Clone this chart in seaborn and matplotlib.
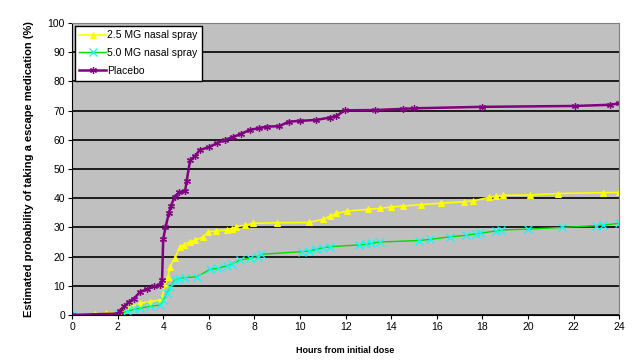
import numpy as np
import pandas as pd
import matplotlib
matplotlib.use("Agg")
import matplotlib.pyplot as plt
import seaborn as sns

# hours / estimated probability (%)
hours_25 = [0, 1.0, 1.5, 2.0, 2.25, 2.6, 3.0, 3.4, 3.86, 3.95, 4.08, 4.2, 4.3, 4.5, 4.74,
            4.9, 5.18, 5.4, 5.76, 5.98, 6.3, 6.78, 7.0, 7.2, 7.6, 7.95, 9.0, 10.4, 11.0,
            11.3, 11.6, 12.05, 13.0, 13.5, 14.0, 14.5, 15.3, 16.2, 17.2, 17.6, 18.3, 18.6,
            18.9, 20.1, 21.3, 23.3, 24.0]
prob_25 = [0, 0.3, 0.6, 1.0, 1.7, 3.0, 4.0, 4.6, 5.1, 6.0, 10.8, 13.0, 16.5, 19.5, 23.4,
           24.0, 25.1, 25.6, 26.8, 28.5, 28.8, 29.1, 29.6, 30.2, 30.8, 31.4, 31.6, 31.7, 32.8,
           33.8, 34.8, 35.6, 36.2, 36.5, 37.0, 37.3, 37.8, 38.3, 38.8, 39.1, 40.3, 40.6,
           41.0, 41.1, 41.6, 41.9, 42.0]

hours_50 = [0, 2.0, 2.1, 2.4, 2.7, 3.0, 3.4, 3.86, 4.0, 4.15, 4.3, 4.5, 4.7, 4.96, 5.47,
            6.05, 6.4, 6.78, 7.0, 7.37, 7.8, 8.17, 8.3, 10.1, 10.4, 10.7, 11.0, 11.3, 12.6,
            12.9, 13.1, 13.5, 15.2, 15.7, 16.6, 17.3, 17.7, 17.9, 18.6, 18.8, 20.0, 21.5,
            23.0, 23.3, 24.0]
prob_50 = [0, 0.3, 0.5, 1.2, 2.0, 2.3, 3.0, 3.4, 5.0, 7.4, 9.5, 12.0, 12.5, 12.8, 13.1,
           15.6, 16.0, 16.8, 17.5, 18.8, 19.4, 20.0, 20.8, 21.7, 21.9, 22.5, 23.0, 23.4, 24.0,
           24.2, 24.5, 25.0, 25.5, 25.9, 26.8, 27.3, 27.8, 28.0, 28.8, 29.1, 29.4, 30.0,
           30.6, 30.8, 31.4]

hours_pl = [0, 2.0, 2.1, 2.3, 2.5, 2.7, 3.0, 3.3, 3.6, 3.86, 3.95, 4.0, 4.1, 4.25, 4.35,
            4.5, 4.7, 4.96, 5.03, 5.18, 5.4, 5.6, 6.0, 6.35, 6.7, 7.07, 7.4, 7.8, 8.2,
            8.54, 9.1, 9.5, 10.0, 10.7, 11.3, 11.6, 11.97, 13.3, 14.5, 15.0, 18.0, 22.06,
            23.6, 24.0]
prob_pl = [0, 0.5, 1.5, 3.0, 4.5, 5.5, 8.0, 8.8, 9.8, 10.3, 12.0, 26.0, 30.0, 35.0, 37.5,
           40.5, 42.0, 42.5, 46.0, 53.0, 54.5, 56.5, 57.5, 58.8, 60.0, 61.0, 62.0, 63.4, 64.0,
           64.5, 64.7, 66.2, 66.5, 66.8, 67.6, 68.2, 70.1, 70.2, 70.6, 70.8, 71.3, 71.6,
           72.0, 72.5]

series_names = ["2.5 MG nasal spray", "5.0 MG nasal spray", "Placebo"]

plt.rcParams['font.family'] = ['Liberation Sans', 'DejaVu Sans']

fig = plt.figure(figsize=(6.43, 3.6), dpi=100)
ax = fig.add_axes([0.112, 0.125, 0.851, 0.811])
ax.set_facecolor('#c0c0c0')

sns.lineplot(x=hours_25, y=prob_25, ax=ax, color='#ffff00', lw=1.2, marker='^',
             markersize=4.5, markeredgecolor='#ffff00', label=series_names[0], sort=False)
sns.lineplot(x=hours_50, y=prob_50, ax=ax, color='#00dd00', lw=1.0, marker='x',
             markersize=5.5, markeredgecolor='#00ffff', markeredgewidth=0.9,
             label=series_names[1], sort=False)
sns.lineplot(x=hours_pl, y=prob_pl, ax=ax, color='#800080', lw=1.8, marker=(6, 2, 0),
             markersize=5, markeredgecolor='#800080', markeredgewidth=0.9,
             label=series_names[2], sort=False)

ax.set_xlim(0, 24)
ax.set_ylim(0, 100)
ax.set_xticks(np.arange(0, 25, 2))
ax.set_yticks(np.arange(0, 101, 10))
ax.yaxis.grid(True, color='black', lw=1.2)
ax.xaxis.grid(False)
ax.set_axisbelow(True)
for side in ['top', 'right']:
    ax.spines[side].set_color('#808080')
ax.spines['left'].set_color('black')
ax.spines['bottom'].set_color('black')
ax.tick_params(axis='both', labelsize=7.5, length=3, width=0.8, color='black', pad=2)

ax.set_xlabel('Hours from initial dose', fontsize=6.5, fontweight='bold', labelpad=10)
ax.set_ylabel('Estimated probability of taking a escape medication (%)', fontsize=8,
              fontweight='bold', labelpad=10)

leg = ax.legend(loc='upper left', fontsize=7.5, frameon=True, fancybox=False,
                edgecolor='black', framealpha=1, borderaxespad=0.25, handlelength=2.6,
                handletextpad=0.1, labelspacing=0.75, borderpad=0.45)
leg.get_frame().set_linewidth(1.0)

fig.savefig('out.png', dpi=100)
